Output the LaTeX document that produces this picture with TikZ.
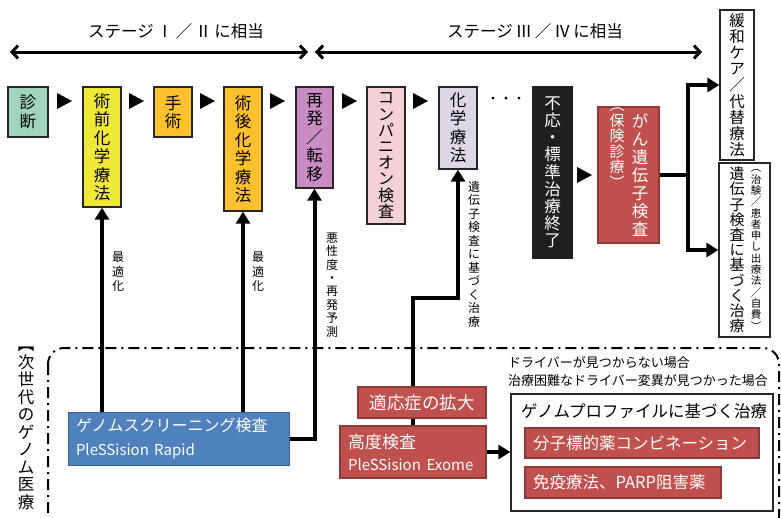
\documentclass[tikz,border=0pt]{standalone}
\usepackage{fontspec}
\setmainfont{Noto Sans CJK JP}
\usetikzlibrary{arrows.meta}
\definecolor{cgreen}{HTML}{9FD5BD}
\definecolor{cyellow}{HTML}{F0E837}
\definecolor{corange}{HTML}{FCC12D}
\definecolor{cpurple}{HTML}{C98DC3}
\definecolor{cpink}{HTML}{F3D1D6}
\definecolor{clav}{HTML}{DDD6E9}
\definecolor{cblack}{HTML}{1F1F1F}
\definecolor{cred}{HTML}{C0504D}
\definecolor{credd}{HTML}{8C3A38}
\definecolor{cblue}{HTML}{4F81BD}
\definecolor{cblued}{HTML}{3A6190}
\newcommand\mybigv{\fontsize{16.5}{18.5}\selectfont}
\newcommand\mysmallv{\fontsize{12}{14.5}\selectfont}
\newcommand\septri[2]{\fill[black] (#1,#2-8) -- (#1+15,#2) -- (#1,#2+8) -- cycle;}
\begin{document}
\begin{tikzpicture}[x=1pt,y=-1pt,
  box/.style={draw=black!85,line width=1.3pt,inner sep=0pt,align=center,font=\mybigv},
  redbox/.style={fill=cred,draw=credd,line width=1.2pt,inner sep=0pt,text=white},
  conn/.style={line width=4pt,-{Triangle[length=12pt,width=14pt]}},
  bar/.style={line width=4pt},
  stage/.style={line width=3pt,{Straight Barb[length=6pt,width=13pt]}-{Straight Barb[length=6pt,width=13pt]}},
  lbl/.style={inner sep=0pt,align=center,font=\mysmallv},
  vtxt/.style={inner sep=0pt,align=center}
]
\useasboundingbox (0,0) rectangle (781,517);
% dash-dot frame
\begin{scope}
\clip (0,0) rectangle (781,517);
\draw[line width=2pt,dash pattern=on 11pt off 5pt on 2pt off 5pt,rounded corners=16pt] (48,348) rectangle (779,532);
\end{scope}
% stage arrows
\coordinate (s1l) at (10,52);
\coordinate (s1r) at (308,52);
\coordinate (s2l) at (315,52);
\coordinate (s2r) at (702,52);
\draw[stage] (s1l) -- (s1r);
\draw[stage] (s2l) -- (s2r);
\node[font=\fontsize{16.5}{18}\selectfont,inner sep=0pt] (st1) at (176,31) {ステージ\,Ⅰ\,／\,Ⅱ\,に相当};
\node[font=\fontsize{16.5}{18}\selectfont,inner sep=0pt] (st2) at (535,31) {ステージ\,Ⅲ\,／\,Ⅳ\,に相当};
% top boxes
\node[box,fill=cgreen,minimum width=40pt,minimum height=50pt] (diag) at (28,112) {診\\断};
\node[box,fill=cyellow,minimum width=38pt,minimum height=120pt] (pre) at (102,147) {術\\前\\化\\学\\療\\法};
\node[box,fill=corange,minimum width=38pt,minimum height=50pt] (surg) at (173,112) {手\\術};
\node[box,fill=corange,minimum width=38pt,minimum height=124pt] (post) at (243,149) {術\\後\\化\\学\\療\\法};
\node[box,fill=cpurple,minimum width=37pt,minimum height=101pt] (rel) at (314.5,137.5) {再\\発\\／\\転\\移};
\node[box,fill=cpink,minimum width=38pt,minimum height=137pt,font=\fontsize{16}{16.2}\selectfont] (comp) at (386,155.5) {コ\\ン\\パ\\ニ\\オ\\ン\\検\\査};
\node[box,fill=clav,minimum width=38pt,minimum height=82pt] (chem) at (458,128) {化\\学\\療\\法};
\node[font=\fontsize{13}{13}\selectfont,inner sep=0pt] (dots) at (506,100) {・・・};
\node[box,fill=cblack,draw=cblack,text=white,minimum width=39pt,minimum height=171pt,font=\fontsize{16.5}{17.2}\selectfont] (stop) at (552.5,172.5) {不\\応\\・\\標\\準\\治\\療\\終\\了};
\node[redbox,minimum width=61pt,minimum height=136pt] (gene) at (628.5,175) {};
\node[vtxt,text=white,font=\fontsize{16.5}{18}\selectfont] (genet) at (640,175) {が\\ん\\遺\\伝\\子\\検\\査};
\node[vtxt,text=white,anchor=north,font=\fontsize{15}{15.5}\selectfont] (genep) at (617,108) {︵\\保\\険\\診\\療\\︶};
\node[box,fill=white,minimum width=34pt,minimum height=150pt,font=\fontsize{15.5}{16.2}\selectfont] (kanwa) at (737,85) {緩\\和\\ケ\\ア\\／\\代\\替\\療\\法};
\node[draw=black!85,line width=1.3pt,fill=white,minimum width=51pt,minimum height=174pt,inner sep=0pt] (iden) at (744.5,250) {};
\node[vtxt,font=\fontsize{15}{15.2}\selectfont] (idenm) at (737,250) {遺\\伝\\子\\検\\査\\に\\基\\づ\\く\\治\\療};
\node[vtxt,font=\fontsize{10.5}{11.3}\selectfont] (idens) at (756,250) {︵\\治\\験\\／\\患\\者\\申\\し\\出\\療\\法\\／\\自\\費\\︶};
% separators
\septri{57}{101}
\septri{129}{101}
\septri{200}{101}
\septri{270}{101}
\septri{342}{101}
\septri{413}{101}
\septri{577}{175}
% side labels
\node[lbl] (opt1) at (118,272) {最\\適\\化};
\node[lbl] (opt2) at (258,272) {最\\適\\化};
\node[lbl,font=\fontsize{12}{13.4}\selectfont] (mal) at (332,285) {悪\\性\\度\\・\\再\\発\\予\\測};
\node[lbl,font=\fontsize{12}{13.5}\selectfont] (gbt) at (474,254) {遺\\伝\\子\\検\\査\\に\\基\\づ\\く\\治\\療};
\node[vtxt,anchor=north,font=\fontsize{16.5}{17.5}\selectfont] (ngen) at (26,347) {︻\\次\\世\\代\\の\\ゲ\\ノ\\ム\\医\\療};
% bottom boxes
\node[fill=cblue,draw=cblued,line width=1pt,minimum width=221pt,minimum height=53pt,text width=205pt,align=left,inner sep=0pt,text=white,font=\fontsize{16}{24}\selectfont] (gs) at (178.5,438.5) {ゲノムスクリーニング検査\\\fontsize{15}{24}\selectfont PleSSision Rapid};
\node[redbox,minimum width=146pt,minimum height=52pt,text width=130pt,align=left,font=\fontsize{17}{22}\selectfont] (ko) at (413,452) {高度検査\\\fontsize{15}{22}\selectfont PleSSision Exome};
\node[draw=black!85,line width=1.3pt,minimum width=262pt,minimum height=117pt,inner sep=0pt] (gp) at (642,452.5) {};
\node[anchor=west,inner sep=0pt,font=\fontsize{16.5}{18}\selectfont] (gpt) at (521,411) {ゲノムプロファイルに基づく治療};
\node[redbox,minimum width=234pt,minimum height=30pt,text width=218pt,align=left,font=\fontsize{16.5}{18}\selectfont] (mol) at (642,443) {分子標的薬コンビネーション};
\node[redbox,minimum width=196pt,minimum height=31pt,text width=180pt,align=left,font=\fontsize{16.5}{18}\selectfont] (imm) at (623,482.5) {免疫療法、PARP阻害薬};
\node[anchor=west,inner sep=0pt,align=left,font=\fontsize{13}{18}\selectfont] (drv) at (508,372) {ドライバーが見つからない場合\\治療困難なドライバー変異が見つかった場合};
% connectors
\draw[conn] (gs.north -| pre.south) -- (pre.south);
\draw[conn] (gs.north -| post.south) -- (post.south);
\draw[conn] (gs.east) -| (rel.south);
\coordinate (kbend) at (0,298);
\draw[conn] (ko.north) |- (kbend -| chem.south) -- (chem.south);
\draw[conn] (ko.east) -- (ko.east -| gp.west);
\coordinate (split) at (688,175);
\draw[bar] (gene.east) -- (split);
\draw[conn] (split) |- (kanwa.west);
\draw[conn] (split) |- (iden.west);
\node[redbox,minimum width=128pt,minimum height=31pt,font=\fontsize{17.5}{18}\selectfont] (tek) at (422,402.5) {適応症の拡大};
\end{tikzpicture}
\end{document}
